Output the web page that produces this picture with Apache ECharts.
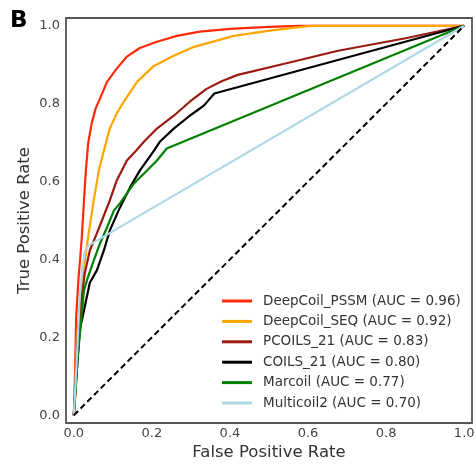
<!DOCTYPE html>
<html><head><meta charset="utf-8">
<script src="https://cdn.jsdelivr.net/npm/echarts@6/dist/echarts.min.js"></script>
<style>html,body{margin:0;padding:0;background:#fff}#c{width:476px;height:468px}</style>
</head><body><div id="c"></div>
<script>
const names = ['DeepCoil_PSSM (AUC = 0.96)','DeepCoil_SEQ (AUC = 0.92)','PCOILS_21 (AUC = 0.83)','COILS_21 (AUC = 0.80)','Marcoil (AUC = 0.77)','Multicoil2 (AUC = 0.70)'];
const colors = ['#ff2a0a','#ffa500','#9b1a10','#000000','#008000','#add8e6'];
const tickValues = [0,0.2,0.4,0.6,0.8,1.0];

const pssm = [[0,0],[0.003,0.1],[0.006,0.25],[0.012,0.35],[0.02,0.45],[0.026,0.55],[0.031,0.63],[0.037,0.7],[0.046,0.75],[0.056,0.788],[0.067,0.813],[0.085,0.856],[0.11,0.89],[0.136,0.921],[0.169,0.943],[0.213,0.959],[0.264,0.974],[0.323,0.985],[0.4,0.992],[0.5,0.997],[0.58,1.0],[1,1]];
const seq = [[0,0],[0.008,0.2],[0.018,0.3],[0.026,0.38],[0.038,0.467],[0.051,0.551],[0.064,0.628],[0.077,0.679],[0.092,0.736],[0.11,0.775],[0.128,0.805],[0.162,0.856],[0.205,0.897],[0.256,0.923],[0.308,0.946],[0.41,0.974],[0.497,0.987],[0.582,0.997],[0.61,1],[1,1]];
const pcoils = [[0,0],[0.01,0.2],[0.02,0.3],[0.028,0.364],[0.041,0.423],[0.059,0.467],[0.072,0.5],[0.092,0.551],[0.11,0.603],[0.136,0.654],[0.16,0.68],[0.18,0.703],[0.213,0.736],[0.256,0.769],[0.297,0.805],[0.34,0.838],[0.38,0.858],[0.42,0.874],[0.55,0.905],[0.677,0.936],[0.85,0.968],[1,1]];
const coils = [[0,0],[0.015,0.218],[0.026,0.269],[0.041,0.34],[0.059,0.372],[0.077,0.423],[0.092,0.474],[0.118,0.533],[0.144,0.585],[0.169,0.628],[0.205,0.679],[0.221,0.703],[0.256,0.736],[0.297,0.769],[0.333,0.795],[0.36,0.826],[1,1]];
const marcoil = [[0,0],[0.01,0.15],[0.026,0.32],[0.036,0.354],[0.051,0.397],[0.067,0.441],[0.085,0.482],[0.103,0.526],[0.118,0.544],[0.141,0.577],[0.154,0.595],[0.187,0.628],[0.213,0.654],[0.238,0.685],[1,1]];
const multicoil = [[0,0],[0.008,0.15],[0.015,0.3],[0.022,0.38],[0.028,0.42],[0.038,0.436],[1,1]];
const diagonal = [[0,0],[1,1]];

const curves = [pssm, seq, pcoils, coils, marcoil, multicoil];
const FONT = 'DejaVu Sans';
const series = curves.map((d,i)=>({
  name: names[i], type:'line', data:d, symbol:'none', showSymbol:false,
  color: colors[i], lineStyle:{width:2.2,color:colors[i]}, animation:false, silent:true
}));
series.push({name:'chance', type:'line', data:diagonal, symbol:'none', color:'#000',
  lineStyle:{width:2,color:'#000',type:[6,3.5]}, animation:false, silent:true});

const axisCommon = {
  type:'value', min:-0.02, max:1.02,
  splitLine:{show:false}, axisLine:{show:false}, axisTick:{show:false},
  nameLocation:'middle', nameMoveOverlap:false,
  nameTextStyle:{fontFamily:FONT,fontSize:16.5,color:'#333'}
};
const chart = echarts.init(document.getElementById('c'), null, {renderer:'canvas'});
chart.setOption({
  backgroundColor:'#fff',
  animation:false,
  grid:{left:66,right:4,top:18,bottom:45,show:true,borderColor:'#555',borderWidth:1.8,containLabel:false,outerBoundsMode:'none'},
  xAxis:Object.assign({}, axisCommon, {
    name:'False Positive Rate', nameGap:21,
    axisLabel:{customValues:tickValues, formatter:v=>v.toFixed(1), fontFamily:FONT, fontSize:13, color:'#444', margin:4}
  }),
  yAxis:Object.assign({}, axisCommon, {
    name:'True Positive Rate', nameGap:33,
    axisLabel:{customValues:tickValues, formatter:v=>v.toFixed(1), fontFamily:FONT, fontSize:13, color:'#444', margin:6}
  }),
  legend:{
    left:217, top:288, orient:'vertical', itemWidth:30, itemHeight:3, itemGap:4.4,
    icon:'rect', data:names,
    textStyle:{fontFamily:FONT, fontSize:13.5, color:'#333', lineHeight:16, padding:[0,0,0,6]},
    selectedMode:false
  },
  graphic:[{type:'text', left:10, top:10, style:{text:'B', font:'bold 23px "DejaVu Sans"', fill:'#000'}}],
  series:series
});
</script></body></html>
